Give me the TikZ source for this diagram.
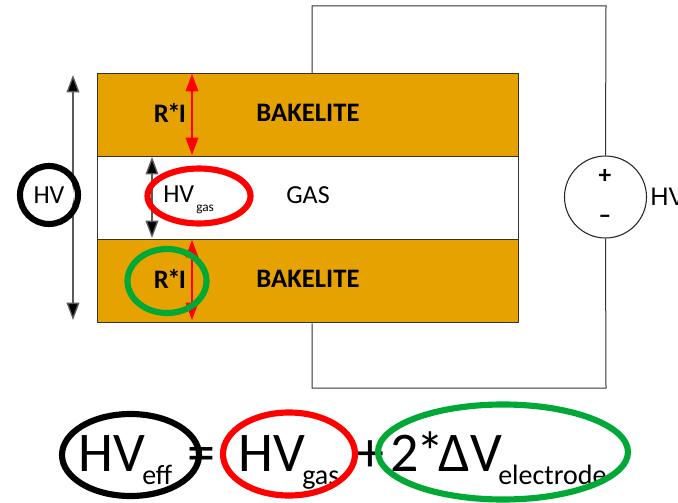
\documentclass[tikz,border=0pt]{standalone}
\usepackage{fontspec}
\setmainfont{Carlito}
\newfontfamily\arialfont{Liberation Sans}
\usetikzlibrary{arrows.meta,shapes.geometric}
\definecolor{bake}{RGB}{230,162,0}
\definecolor{ringgreen}{RGB}{0,168,54}
\tikzset{
  layer/.style={draw=black!80,line width=1.1pt,minimum width=421\pxu,minimum height=83\pxu,inner sep=0pt,anchor=north west},
  wire/.style={draw=black!80,line width=0.75pt},
  dimblack/.style={draw=black!65,line width=1pt,{Triangle[length=13pt,width=9.5pt,fill=black]}-{Triangle[length=13pt,width=9.5pt,fill=black]}},
  dimred/.style={draw=red,line width=1pt,{Triangle[length=13pt,width=9.5pt,fill=red]}-{Triangle[length=13pt,width=9.5pt,fill=red]}},
  ring/.style={shape=ellipse,draw,line width=4.6pt,inner sep=0pt,fill=none},
  lab/.style={inner sep=0pt,font=\fontsize{19.5}{19.5}\selectfont},
  blab/.style={inner sep=0pt,font=\fontsize{20}{20}\selectfont\bfseries},
  eqn/.style={inner sep=0pt,font=\fontsize{42}{42}\selectfont,anchor=base west},
  sub/.style={inner sep=0pt,font=\fontsize{21}{21}\selectfont,anchor=base west},
}
\newdimen\pxu \pxu=0.75pt
\begin{document}
\begin{tikzpicture}[x=0.75pt,y=-0.75pt]
\useasboundingbox (0,0) rectangle (678,503);
% wires behind the plates
\coordinate (tl) at (312,6); \coordinate (tr) at (606,6);
\coordinate (bl) at (312,388); \coordinate (br) at (606,388);
\node[layer,fill=bake] (top) at (97,73) {};
\node[layer,fill=white] (gas) at (97,156) {};
\node[layer,fill=bake] (bot) at (97,239) {};
\node[circle,draw=black!85,line width=0.8pt,minimum size=82\pxu,inner sep=0pt,fill=white] (src) at (605.5,197) {};
\draw[wire] (top.north -| tl) -- (tl) -- (tr) -- (src.north);
\draw[wire] (bot.south -| bl) -- (bl) -- (br) -- (src.south);
% arrows
\coordinate (a1) at (73,75); \coordinate (a2) at (73,320);
\draw[dimblack] (a1) -- (a2);
\coordinate (g1) at (152,157); \coordinate (g2) at (152,238);
\draw[dimblack] (g1) -- (g2);
\coordinate (r1) at (192,74); \coordinate (r2) at (192,155);
\draw[dimred] (r1) -- (r2);
\coordinate (r3) at (192,240); \coordinate (r4) at (192,320);
\draw[dimred] (r3) -- (r4);
% labels
\node[blab] (ri1) at (170,113) {R\kern-1.2pt*\kern-1.2pt I};
\node[blab] (b1) at (308,113) {BAKELITE};
\node[blab] (ri2) at (170,279) {R\kern-1.2pt*\kern-1.2pt I};
\node[blab] (b2) at (308,279) {BAKELITE};
\node[lab] (g) at (308,195) {GAS};
\node[lab,anchor=base west] (hvg) at (163,202) {HV};
\node[inner sep=0pt,font=\fontsize{10}{10}\selectfont,anchor=base west] (hvgs) at (196,211) {gas};
\node[lab,fill=white,circle,inner sep=0pt,minimum size=50\pxu] (hv) at (49,195) {HV};
\node[ring,draw=black,minimum width=58\pxu,minimum height=58\pxu] (hvring) at (49,195) {};
\node[ring,draw=red,minimum width=103\pxu,minimum height=55\pxu] (gasring) at (199,196) {};
\node[ring,draw=ringgreen,minimum width=79\pxu,minimum height=64\pxu] (riring) at (167,281) {};
\node[inner sep=0pt,font=\fontsize{19}{19}\selectfont\bfseries] (plus) at (605,176) {+};
\node[inner sep=0pt,font=\fontsize{19}{19}\selectfont\bfseries] (minus) at (605,219) {–};
\node[inner sep=0pt,font=\fontsize{19}{19}\arialfont\selectfont,anchor=base west] (hvr) at (650,205) {HV};
% equation
\node[eqn] (e1) at (78,471) {HV};
\node[sub] (e1s) at (142,484) {eff};
\node[eqn] (eq) at (187,471) {=};
\node[eqn] (e2) at (238,471) {HV};
\node[sub] (e2s) at (302,484) {gas};
\node[eqn] (pl) at (356,471) {+};
\node[eqn] (e3) at (390,471) {2\kern-2pt*\kern-4pt ΔV};
\node[sub] (e3s) at (498,484) {electrode};
\node[ring,draw=black,minimum width=137\pxu,minimum height=82\pxu] at (130.5,455) {};
\node[ring,draw=red,minimum width=132\pxu,minimum height=83\pxu] at (289,454) {};
\node[ring,draw=ringgreen,minimum width=250\pxu,minimum height=95\pxu] at (503,452) {};
\end{tikzpicture}
\end{document}
